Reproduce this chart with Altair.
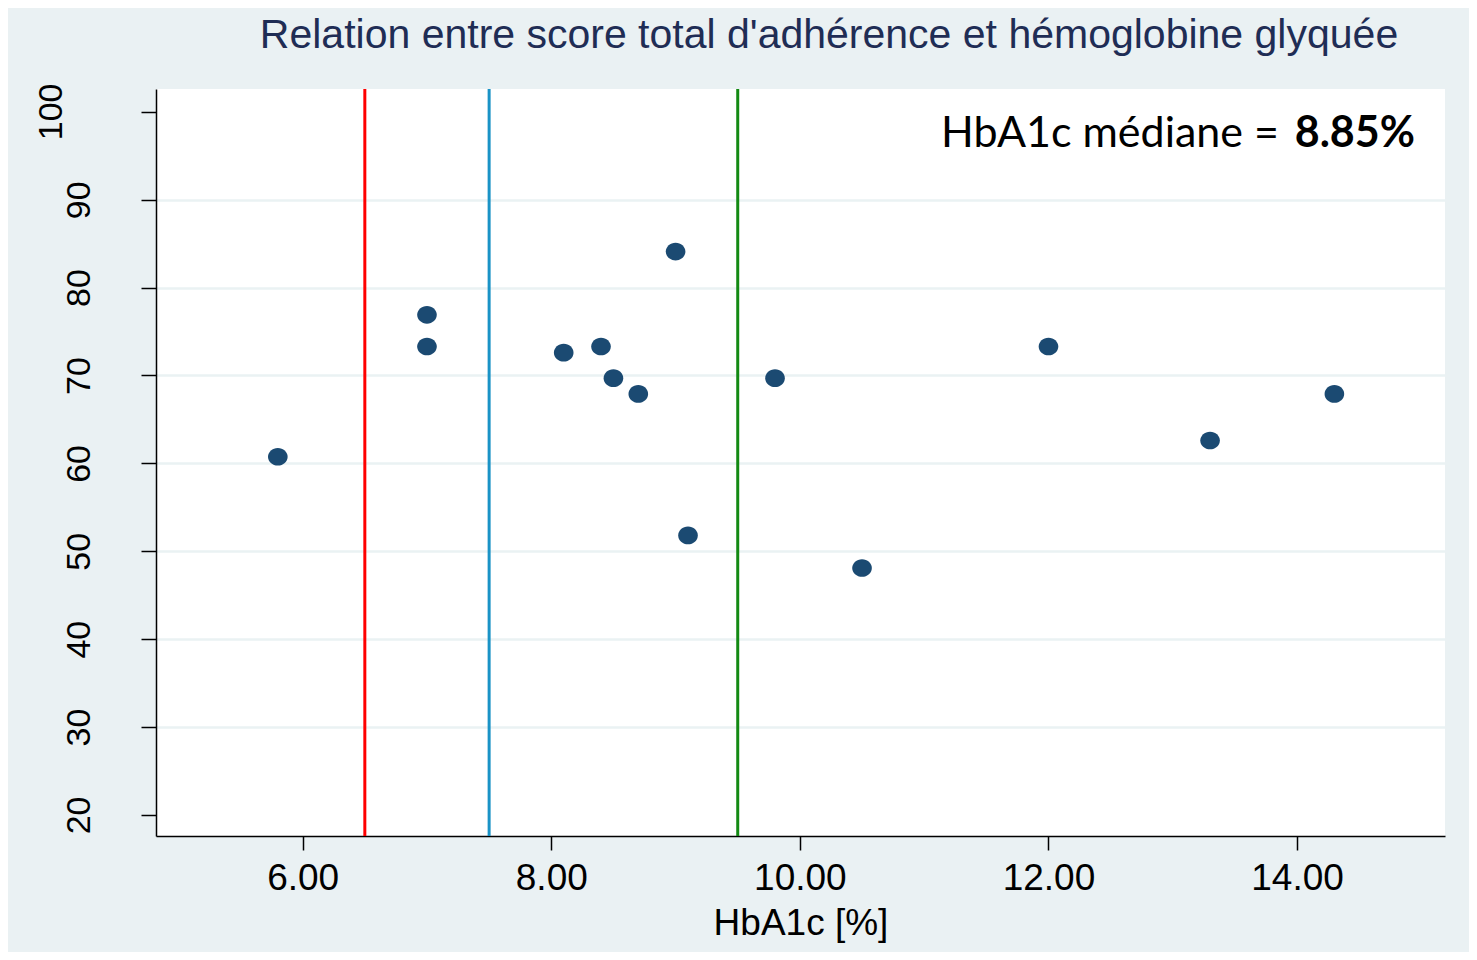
import altair as alt
import pandas as pd

# ---- data ----
hba1c = [5.8, 7.0, 7.0, 8.1, 8.4, 8.5, 8.7, 9.0, 9.1, 9.8, 10.5, 12.0, 13.3, 14.3]
score = [60.75, 76.9, 73.3, 72.6, 73.3, 69.7, 67.9, 84.1, 51.8, 69.7, 48.1, 73.3, 62.6, 67.9]
ref_values = [6.5, 7.5, 9.5]
ref_colors = ["#FF0000", "#1A93C6", "#138A13"]
x_ticks = [6, 8, 10, 12, 14]
y_ticks = [20, 30, 40, 50, 60, 70, 80, 90, 100]
title_text = "Relation entre score total d'adhérence et hémoglobine glyquée"
x_title = "HbA1c [%]"
median_label = "HbA1c médiane ="
median_value = "8.85%"

points = pd.DataFrame({"hba1c": hba1c, "score": score})
refs = pd.DataFrame({"hba1c": ref_values, "c": ref_colors})
top_tick = pd.DataFrame({"score": [y_ticks[-1]], "lab": [str(y_ticks[-1])]})
one = pd.DataFrame({"k": [0]})

x_scale = alt.Scale(domain=[4.82, 15.19], nice=False, zero=False)
y_scale = alt.Scale(domain=[17.6, 102.6], nice=False, zero=False)

x_axis = alt.Axis(
    values=x_ticks, format=".2f", title=x_title, grid=False,
    labelFont="Liberation Sans", labelFontSize=37, labelColor="black",
    labelPadding=10, tickSize=14, tickColor="black", tickWidth=1.5,
    domainColor="black", domainWidth=1.5,
    titleFont="Liberation Sans", titleFontSize=37, titleFontWeight="normal",
    titleColor="black", titlePadding=9,
)
y_axis = alt.Axis(
    values=y_ticks, title=None, grid=True,
    gridColor="#EAF2F3", gridWidth=2.5,
    gridOpacity={"condition": {"test": "datum.value == 100 || datum.value == 20", "value": 0}, "value": 1},
    labelAngle=270, labelAlign="center", labelBaseline="bottom",
    labelExpr="datum.value == 100 ? '' : datum.label",
    labelFont="Liberation Sans", labelFontSize=34, labelColor="black",
    labelPadding=45, tickSize=15, tickColor="black", tickWidth=1.5,
    domainColor="black", domainWidth=1.5,
)

X = alt.X("hba1c:Q", scale=x_scale, axis=x_axis)
Y = alt.Y("score:Q", scale=y_scale, axis=y_axis)

rules = alt.Chart(refs).mark_rule(strokeWidth=3).encode(
    x=X,
    color=alt.Color("c:N", scale=None),
)

dots = alt.Chart(points).mark_point(
    shape="M-1,0A1,0.9,0,1,1,1,0A1,0.9,0,1,1,-1,0Z",
    filled=True, opacity=1, size=385, color="#1B4A72",
).encode(x=X, y=Y)

# the "100" tick label sits further from the axis in the reference
top_label = alt.Chart(top_tick).mark_text(
    angle=270, align="center", baseline="alphabetic",
    font="Liberation Sans", fontSize=34, color="black",
).encode(y=Y, x=alt.value(-94), text="lab:N")

chart_title = alt.Chart(one).mark_text(
    text=title_text, font="Liberation Sans", fontSize=41,
    align="center", baseline="alphabetic", color="#1F2D55",
).encode(x=alt.value(673), y=alt.value(-41))

label_normal = alt.Chart(one).mark_text(
    text=median_label, font="Lato", fontSize=43, align="right",
    baseline="alphabetic", color="black",
).encode(x=alt.value(1123), y=alt.value(58))

label_bold = alt.Chart(one).mark_text(
    text=median_value, font="Lato", fontSize=43, fontWeight="bold",
    align="right", baseline="alphabetic", color="black",
).encode(x=alt.value(1259), y=alt.value(58))

chart = alt.layer(rules, dots, top_label, chart_title, label_normal, label_bold).properties(
    width=1289,
    height=747,
    padding={"left": 148, "top": 81, "right": 24, "bottom": 116},
    autosize=alt.AutoSizeParams(type="none"),
    background="#EAF1F3",
).configure_view(fill="white", strokeWidth=0)

chart.save("out.html", embed_options={"renderer": "svg", "actions": False})
